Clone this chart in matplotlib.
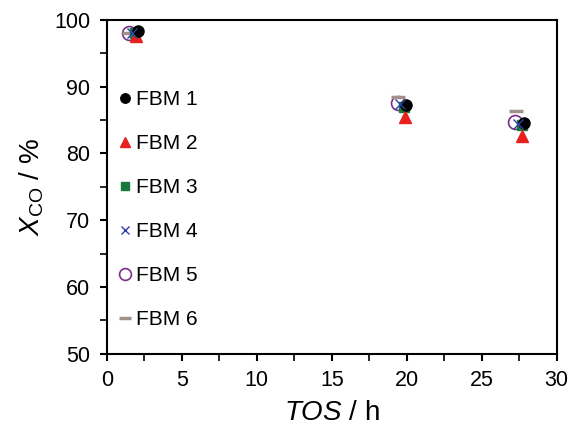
import matplotlib
matplotlib.use("Agg")
import matplotlib.pyplot as plt
from matplotlib.ticker import MultipleLocator

plt.rcParams['font.family'] = ['Liberation Sans', 'DejaVu Sans']
plt.rcParams['mathtext.fontset'] = 'custom'
plt.rcParams['mathtext.rm'] = 'Liberation Sans'
plt.rcParams['mathtext.it'] = 'Liberation Sans:italic'

labels = ['FBM 1', 'FBM 2', 'FBM 3', 'FBM 4', 'FBM 5', 'FBM 6']
tos = [
    [2.05, 19.93, 27.85],
    [1.95, 19.87, 27.7],
    [1.85, 19.8, 27.7],
    [1.65, 19.53, 27.4],
    [1.5, 19.4, 27.25],
    [1.5, 19.4, 27.3],
]
xco = [
    [98.3, 87.3, 84.5],
    [97.6, 85.5, 82.6],
    [98.0, 87.0, 84.2],
    [98.0, 87.4, 84.4],
    [98.0, 87.6, 84.7],
    [98.0, 88.5, 86.3],
]
markers = ['o', '^', 's', 'x', 'o', '_']
colors = ['black', '#e8211e', '#177a3c', '#2f3fa8', '#7b2d8c', '#a0928a']
sizes = [8, 8, 7.5, 7, 10, 10]

fig = plt.figure(figsize=(5.71, 4.32), dpi=100)
ax = fig.add_axes([0.187, 0.181, 0.788, 0.773])

for i in range(len(labels)):
    if i == 4:
        ax.plot(tos[i], xco[i], linestyle='none', marker='o', markersize=sizes[i],
                markerfacecolor='none', markeredgecolor=colors[i], markeredgewidth=1.2,
                label=labels[i], zorder=5 - i)
    elif i == 5:
        ax.plot(tos[i], xco[i], linestyle='none', marker='_', markersize=sizes[i],
                color=colors[i], markeredgewidth=2.5, label=labels[i], zorder=1)
    elif i == 3:
        ax.plot(tos[i], xco[i], linestyle='none', marker='x', markersize=sizes[i],
                color=colors[i], markeredgewidth=1.0, label=labels[i], zorder=6)
    else:
        ax.plot(tos[i], xco[i], linestyle='none', marker=markers[i], markersize=sizes[i],
                color=colors[i], label=labels[i], zorder=4 - i)

ax.set_xlim(0, 30)
ax.set_ylim(50, 100)
ax.xaxis.set_major_locator(MultipleLocator(5))
ax.xaxis.set_minor_locator(MultipleLocator(2.5))
ax.yaxis.set_major_locator(MultipleLocator(10))
ax.yaxis.set_minor_locator(MultipleLocator(5))
ax.tick_params(which='major', direction='out', length=5, width=1.5, labelsize=15.5, pad=7)
ax.tick_params(which='minor', direction='out', length=5, width=1.2)
for s in ax.spines.values():
    s.set_linewidth(1.5)

ax.set_xlabel(r'$TOS$ / h', fontsize=20, labelpad=6)
ax.set_ylabel(r'$X_\mathrm{CO}$ / %', fontsize=20, labelpad=6)

leg = ax.legend(loc='upper left', bbox_to_anchor=(-0.002, 0.814), frameon=False,
                fontsize=15, labelspacing=1.2, handletextpad=0.05,
                handlelength=1.0, borderaxespad=0, markerscale=0.85)

fig.savefig('out.png', dpi=100)
